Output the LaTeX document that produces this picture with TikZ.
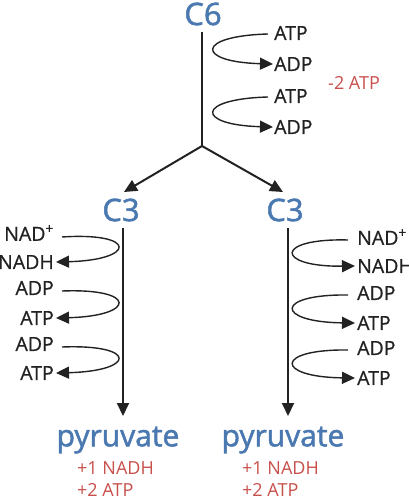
\documentclass[tikz,border=0pt]{standalone}
\usepackage{fontspec}
\setmainfont{Open Sans}
\newfontfamily\labfont{Open Sans}[FakeBold=0.6]
\newfontfamily\semib{Open Sans}[FakeBold=1.6]
\usetikzlibrary{arrows.meta}
\definecolor{cblue}{HTML}{4A78B0}
\definecolor{cred}{HTML}{C8504C}
\definecolor{cdark}{HTML}{222222}
\tikzset{
  lab/.style={font=\labfont\fontsize{19.5}{22}\selectfont, text=cdark, inner sep=0pt},
  big/.style={font=\semib\fontsize{31}{34}\selectfont, text=cblue, inner sep=0pt},
  pyr/.style={font=\semib\fontsize{30}{33}\selectfont, text=cblue, inner sep=0pt},
  gain/.style={font=\fontsize{18}{20}\selectfont, text=cred, inner sep=0pt, anchor=west},
  mainline/.style={draw=cdark, line width=2pt},
  mainarrow/.style={mainline, -{Triangle[length=13pt,width=12pt]}},
  curve/.style={draw=cdark, line width=1.4pt, -{Triangle[length=13pt,width=12pt]}}
}
\begin{document}
\begin{tikzpicture}[x=1pt,y=-1pt]
\useasboundingbox[fill=white] (0,0) rectangle (408,500);
% top
\node[big] (c6) at (203,14) {C6};
\coordinate (br) at (202,146);
\draw[mainline] (202,32) -- (br);
\node[big] (c3l) at (121,210) {C3};
\node[big] (c3r) at (285,210) {C3};
\draw[mainarrow] (br) -- (124,192);
\draw[mainarrow] (br) -- (283,192);
% top labels
\node[lab, anchor=west] (a1) at (274,33) {ATP};
\node[lab, anchor=west] (a2) at (274,64) {ADP};
\node[lab, anchor=west] (a3) at (274,96) {ATP};
\node[lab, anchor=west] (a4) at (274,127) {ADP};
\node[gain] (m2) at (328,83) {-2 ATP};
\draw[curve] ([xshift=-6pt,yshift=-1pt]a1.west) .. controls (195,36) and (196,62) .. ([xshift=-1pt]a2.west);
\draw[curve] ([xshift=-6pt,yshift=-1pt]a3.west) .. controls (195,99) and (196,125) .. ([xshift=-1pt]a4.west);
% left branch
\draw[mainarrow] (123,228) -- (123,416);
\node[lab, anchor=east] (l1) at (54,233) {NAD\textsuperscript{+}};
\node[lab, anchor=east] (l2) at (54,262) {NADH};
\node[lab, anchor=east] (l3) at (54,288) {ADP};
\node[lab, anchor=east] (l4) at (54,318) {ATP};
\node[lab, anchor=east] (l5) at (54,344) {ADP};
\node[lab, anchor=east] (l6) at (54,373) {ATP};
\draw[curve] ([xshift=8pt,yshift=-4pt]l1.east) .. controls (138,232) and (136,260) .. ([xshift=2pt]l2.east);
\draw[curve] ([xshift=8pt,yshift=-3pt]l3.east) .. controls (138,288) and (136,316) .. ([xshift=2pt]l4.east);
\draw[curve] ([xshift=8pt,yshift=-3pt]l5.east) .. controls (138,344) and (136,371) .. ([xshift=2pt]l6.east);
% right branch
\draw[mainarrow] (288,228) -- (288,416);
\node[lab, anchor=west] (r1) at (357,237) {NAD\textsuperscript{+}};
\node[lab, anchor=west] (r2) at (357,266) {NADH};
\node[lab, anchor=west] (r3) at (357,293) {ADP};
\node[lab, anchor=west] (r4) at (357,323) {ATP};
\node[lab, anchor=west] (r5) at (357,348) {ADP};
\node[lab, anchor=west] (r6) at (357,378) {ATP};
\draw[curve] ([xshift=-9pt,yshift=-3pt]r1.west) .. controls (274,238) and (275,267) .. ([xshift=-2pt]r2.west);
\draw[curve] ([xshift=-9pt,yshift=-2pt]r3.west) .. controls (274,294) and (275,322) .. ([xshift=-2pt]r4.west);
\draw[curve] ([xshift=-9pt,yshift=-2pt]r5.west) .. controls (274,349) and (275,377) .. ([xshift=-2pt]r6.west);
% bottom
\node[pyr] (pl) at (118,440) {pyruvate};
\node[pyr] (pr) at (283,440) {pyruvate};
\node[gain] (g1) at (77,468) {+1 NADH};
\node[gain] (g2) at (77,490) {+2 ATP};
\node[gain] (g3) at (242,468) {+1 NADH};
\node[gain] (g4) at (242,490) {+2 ATP};
\end{tikzpicture}
\end{document}
